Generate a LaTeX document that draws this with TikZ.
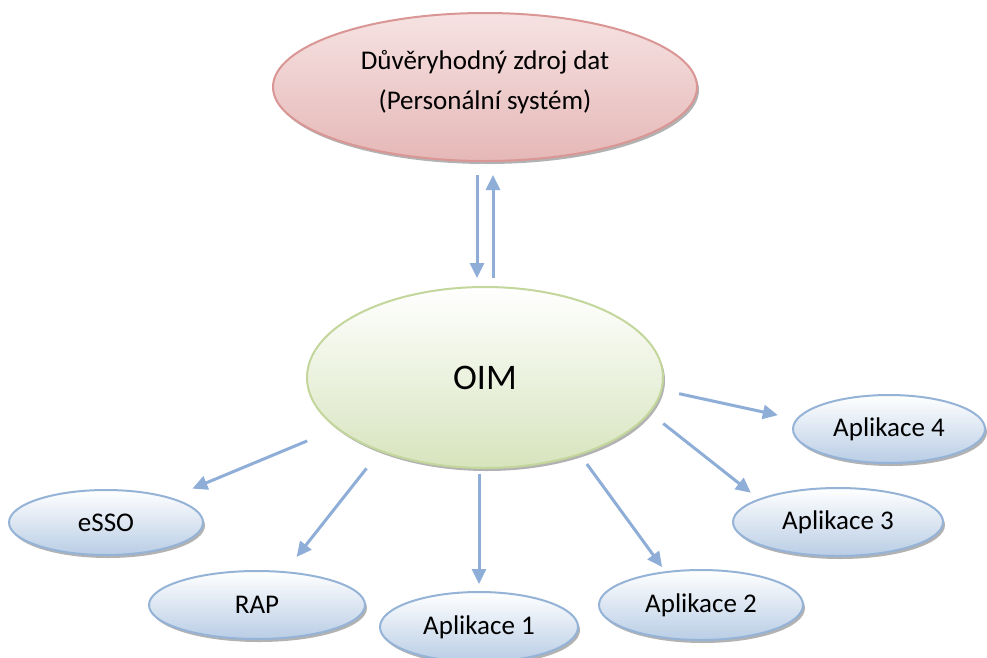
\documentclass[tikz,border=0pt]{standalone}
\usepackage{fontspec}
\setmainfont{Carlito}
\usetikzlibrary{shapes.geometric,arrows.meta,shadows}
\definecolor{arrowblue}{RGB}{142,174,216}
\definecolor{pinkborder}{RGB}{217,150,148}
\definecolor{pinktop}{RGB}{246,226,226}
\definecolor{pinkbot}{RGB}{229,184,183}
\definecolor{greenborder}{RGB}{195,214,155}
\definecolor{greenbot}{RGB}{215,228,189}
\definecolor{blueborder}{RGB}{149,179,215}
\definecolor{bluebot}{RGB}{185,205,229}
\begin{document}
\begin{tikzpicture}[x=1pt,y=-1pt,
  base/.style={ellipse, inner sep=0pt, outer sep=0pt, line width=2pt,
    drop shadow={shadow xshift=2pt,shadow yshift=-3pt,fill=black,opacity=0.3}},
  pinkell/.style={base, draw=pinkborder, top color=pinktop, bottom color=pinkbot,
    align=center, font=\fontsize{27}{40}\selectfont},
  greenell/.style={base, draw=greenborder, top color=white, bottom color=greenbot,
    font=\fontsize{36}{43}\selectfont},
  blueell/.style={base, draw=blueborder, top color=white, bottom color=bluebot,
    font=\fontsize{27}{32}\selectfont},
  conn/.style={draw=arrowblue, line width=3pt, -{Triangle[width=14pt,length=15pt]}}]
\path[fill=white,use as bounding box] (0,0) rectangle (987,657);

\node[pinkell, minimum width=424, minimum height=148] (src) at (485,87)
  {Důvěryhodný zdroj dat\\(Personální systém)\rule[-15pt]{0pt}{15pt}};
\node[greenell, minimum width=356, minimum height=181] (oim) at (485,377.5) {OIM};
\node[blueell, minimum width=194, minimum height=65] (esso) at (106,522.5) {eSSO};
\node[blueell, minimum width=216, minimum height=68] (rap) at (257,605) {RAP};
\node[blueell, minimum width=198, minimum height=70] (app1) at (479,627) {Aplikace 1};
\node[blueell, minimum width=204, minimum height=70] (app2) at (701,605) {Aplikace 2};
\node[blueell, minimum width=210, minimum height=68] (app3) at (838,522) {Aplikace 3};
\node[blueell, minimum width=192, minimum height=68] (app4) at (889,429) {Aplikace 4};

\draw[conn, shorten <=14pt, shorten >=9pt] ([xshift=-8pt]src.south) -- ([xshift=-8pt]oim.north);
\draw[conn, shorten <=9pt, shorten >=14pt] ([xshift=8pt]oim.north) -- ([xshift=8pt]src.south);
\draw[conn, shorten <=33pt, shorten >=24.5pt] (oim.199) -- (esso.21);
\draw[conn, shorten <=22.5pt, shorten >=19.4pt] (oim.215) -- (rap.50);
\draw[conn, shorten <=5.5pt, shorten >=8pt] ([xshift=-6pt]oim.south) -- (app1.north);
\draw[conn, shorten <=12.2pt, shorten >=6.3pt] (oim.321) -- (app2.137);
\draw[conn, shorten <=17.9pt, shorten >=10.9pt] (oim.348) -- (app3.164);
\draw[conn, shorten <=18.2pt, shorten >=19.6pt] (oim.356) -- (app4.174);
\end{tikzpicture}
\end{document}
